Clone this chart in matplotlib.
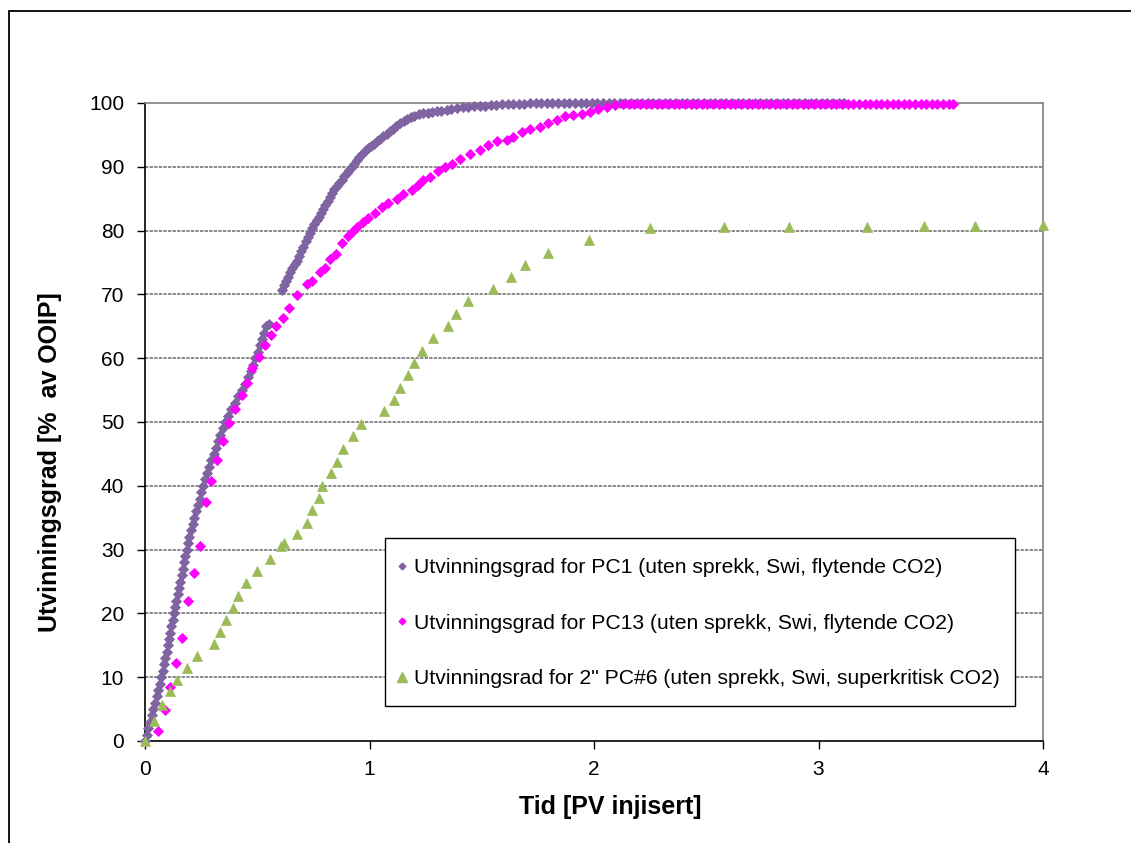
import matplotlib
matplotlib.use("Agg")
import matplotlib.pyplot as plt
from matplotlib.patches import Rectangle
from matplotlib.lines import Line2D

plt.rcParams['font.family'] = ['Liberation Sans', 'DejaVu Sans']

# PC1 (no fracture, Swi, liquid CO2)
pc1_x = [0, 0.008, 0.015, 0.022, 0.03, 0.037, 0.045, 0.052, 0.06, 0.066, 0.073, 0.079, 0.085, 0.09,
         0.096, 0.101, 0.107, 0.112, 0.118, 0.123, 0.128, 0.134, 0.14, 0.145, 0.151, 0.157, 0.163,
         0.168, 0.174, 0.18, 0.186, 0.192, 0.198, 0.205, 0.212, 0.22, 0.228, 0.235, 0.243, 0.251,
         0.26, 0.269, 0.278, 0.287, 0.296, 0.306, 0.316, 0.326, 0.336, 0.347, 0.358, 0.371, 0.385,
         0.4, 0.416, 0.43, 0.445, 0.458, 0.47, 0.481, 0.492, 0.502, 0.512, 0.522, 0.532, 0.541, 0.551,
         0.609, 0.618, 0.627, 0.636, 0.646, 0.656, 0.666, 0.676, 0.686, 0.696, 0.705, 0.715, 0.725,
         0.735, 0.745, 0.755, 0.765, 0.775, 0.785, 0.794, 0.804, 0.814, 0.824, 0.834, 0.844, 0.855,
         0.866, 0.877, 0.888, 0.898, 0.909, 0.92, 0.931, 0.943, 0.955, 0.967, 0.98, 0.993, 1.006,
         1.02, 1.034, 1.048, 1.062, 1.076, 1.09, 1.105, 1.12, 1.136, 1.152, 1.168, 1.184, 1.2, 1.22,
         1.24, 1.26, 1.28, 1.3, 1.32, 1.343, 1.365, 1.39, 1.415, 1.44, 1.465, 1.49, 1.515, 1.54,
         1.565, 1.59, 1.615, 1.64, 1.665, 1.69, 1.715, 1.74, 1.765, 1.79, 1.815, 1.84, 1.865, 1.89,
         1.915, 1.94, 1.965, 1.99, 2.015, 2.04, 2.065, 2.09, 2.115, 2.14, 2.165, 2.19, 2.215, 2.24,
         2.265, 2.29, 2.315, 2.34, 2.365, 2.39, 2.415, 2.44, 2.465, 2.49, 2.515, 2.54, 2.565, 2.59,
         2.615, 2.64, 2.665, 2.69, 2.715, 2.74, 2.765, 2.79, 2.815, 2.84, 2.865, 2.89, 2.915, 2.94,
         2.965, 2.99, 3.015, 3.04, 3.065, 3.09, 3.115]
pc1_y = [0, 1, 2, 3, 4, 5, 6, 7, 8, 9, 10, 11, 12, 13,
         14, 15, 16, 17, 18, 19, 20, 21, 22, 23, 24, 25, 26,
         27, 28, 29, 30, 31, 32, 33, 34, 35, 36, 37, 38, 39,
         40, 41, 42, 43, 44, 45, 46, 47, 48, 49, 50, 51, 52,
         53, 54, 55, 56, 57, 58, 59, 60, 61, 62, 63, 64, 65, 65.4,
         70.7, 71.4, 72.1, 72.8, 73.5, 74.1, 74.7, 75.3, 76.0, 76.8, 77.5, 78.3, 79.0,
         79.7, 80.4, 81.0, 81.6, 82.2, 82.8, 83.4, 84.0, 84.7, 85.3, 85.9, 86.5, 87.0,
         87.5, 88.0, 88.5, 89.0, 89.5, 90.0, 90.5, 91.0, 91.5, 92.0, 92.5, 93.0, 93.3,
         93.6, 94.0, 94.4, 94.8, 95.2, 95.6, 96.0, 96.4, 96.8, 97.2, 97.5, 97.8, 98.0, 98.2,
         98.4, 98.5, 98.6, 98.7, 98.8, 98.9, 99.0, 99.2, 99.3, 99.4, 99.5, 99.6, 99.6, 99.7,
         99.7, 99.8, 99.8, 99.9, 99.9, 99.9, 100, 100, 100, 100, 100, 100, 100, 100,
         100, 100, 100, 100, 100, 100, 100, 100, 100, 100, 100, 100, 100, 100,
         100, 100, 100, 100, 100, 100, 100, 100, 100, 100, 100, 100, 100, 100,
         100, 100, 100, 100, 100, 100, 100, 100, 100, 100, 100, 100, 100, 100,
         100, 100, 100, 100, 100, 100, 100]

# PC13 (no fracture, Swi, liquid CO2)
pc13_x = [0.06, 0.088, 0.113, 0.138, 0.163, 0.191, 0.218, 0.245, 0.271, 0.292, 0.32, 0.349, 0.373,
          0.402, 0.43, 0.453, 0.475, 0.508, 0.535, 0.561, 0.585, 0.613, 0.64, 0.677, 0.72, 0.742,
          0.779, 0.8, 0.824, 0.852, 0.878, 0.903, 0.925, 0.945, 0.972, 0.995, 1.024, 1.054, 1.084,
          1.121, 1.151, 1.188, 1.218, 1.24, 1.269, 1.306, 1.336, 1.366, 1.403, 1.448, 1.492, 1.529,
          1.566, 1.611, 1.641, 1.678, 1.715, 1.759, 1.796, 1.834, 1.871, 1.908, 1.945, 1.982, 2.019,
          2.056, 2.094, 2.131, 2.155, 2.18, 2.205, 2.23, 2.255, 2.28, 2.305, 2.33, 2.355, 2.38,
          2.405, 2.43, 2.455, 2.48, 2.505, 2.53, 2.555, 2.58, 2.605, 2.63, 2.655, 2.68, 2.705,
          2.73, 2.755, 2.78, 2.805, 2.83, 2.855, 2.88, 2.905, 2.93, 2.955, 2.98, 3.005, 3.03,
          3.055, 3.08, 3.105, 3.13, 3.155, 3.18, 3.205, 3.23, 3.255, 3.28, 3.305, 3.33, 3.355,
          3.38, 3.405, 3.43, 3.455, 3.48, 3.505, 3.53, 3.555, 3.58, 3.6]
pc13_y = [1.6, 4.8, 8.5, 12.3, 16.1, 21.9, 26.3, 30.6, 37.4, 40.7, 44.0, 47.0, 49.8,
          52.0, 54.2, 56.1, 58.4, 60.2, 62.0, 63.7, 65.1, 66.3, 67.9, 69.9, 71.6, 72.1,
          73.5, 74.1, 75.6, 76.4, 78.0, 79.1, 79.9, 80.6, 81.3, 81.9, 82.8, 83.7, 84.4,
          85.0, 85.8, 86.4, 87.1, 87.9, 88.4, 89.3, 89.9, 90.4, 91.2, 92.0, 92.7, 93.4,
          94.0, 94.2, 94.7, 95.5, 95.9, 96.3, 96.8, 97.3, 97.9, 98.1, 98.3, 98.6, 99.1,
          99.4, 99.7, 99.8, 99.8, 99.8, 99.8, 99.8, 99.8, 99.8, 99.8, 99.8, 99.8, 99.8,
          99.8, 99.8, 99.8, 99.8, 99.8, 99.8, 99.8, 99.8, 99.8, 99.8, 99.8, 99.8, 99.8,
          99.8, 99.8, 99.8, 99.8, 99.8, 99.8, 99.8, 99.8, 99.8, 99.8, 99.8, 99.8, 99.8,
          99.8, 99.8, 99.8, 99.8, 99.8, 99.8, 99.8, 99.8, 99.8, 99.8, 99.8, 99.8, 99.8,
          99.8, 99.8, 99.8, 99.8, 99.8, 99.8, 99.8, 99.8, 99.8, 99.8]

# 2" PC#6 (no fracture, Swi, supercritical CO2)
pc6_x = [0, 0.039, 0.076, 0.113, 0.143, 0.187, 0.232, 0.308, 0.333, 0.362, 0.391, 0.415, 0.452,
         0.497, 0.555, 0.607, 0.619, 0.679, 0.72, 0.746, 0.775, 0.79, 0.828, 0.857, 0.883, 0.928,
         0.962, 1.064, 1.107, 1.136, 1.173, 1.2, 1.235, 1.285, 1.348, 1.385, 1.437, 1.548, 1.63,
         1.693, 1.793, 1.976, 2.25, 2.579, 2.869, 3.218, 3.47, 3.697, 4.0]
pc6_y = [0, 3.2, 5.7, 7.8, 9.5, 11.5, 13.3, 15.2, 17.1, 19.0, 20.9, 22.8, 24.8,
         26.6, 28.5, 30.5, 31.0, 32.4, 34.2, 36.2, 38.1, 40.0, 42.0, 43.8, 45.8, 47.8,
         49.7, 51.7, 53.5, 55.4, 57.4, 59.3, 61.2, 63.2, 65.0, 67.0, 68.9, 70.8, 72.8,
         74.6, 76.5, 78.5, 80.4, 80.6, 80.6, 80.6, 80.7, 80.7, 80.8]

labels = [
    "Utvinningsgrad for PC1 (uten sprekk, Swi, flytende CO2)",
    "Utvinningsgrad for PC13 (uten sprekk, Swi, flytende CO2)",
    "Utvinningsrad for 2\" PC#6 (uten sprekk, Swi, superkritisk CO2)",
]
colors = ["#8064A2", "#FF00FF", "#9BBB59"]
x_ticks = [0, 1, 2, 3, 4]
y_ticks = [0, 10, 20, 30, 40, 50, 60, 70, 80, 90, 100]

W, H = 1131, 843
fig = plt.figure(figsize=(W / 100, H / 100), dpi=100)
fig.patch.set_facecolor("white")

left, right, top, bottom = 145, 1043, 103, 741
ax = fig.add_axes([left / W, 1 - bottom / H, (right - left) / W, (bottom - top) / H])

ax.plot(pc1_x, pc1_y, linestyle="none", marker="D", ms=4.9, mfc=colors[0], mec=colors[0],
        mew=0.6, zorder=3, clip_on=False)
ax.plot(pc13_x, pc13_y, linestyle="none", marker="D", ms=5.0, mfc=colors[1], mec=colors[1],
        mew=0.6, zorder=4, clip_on=False)
ax.plot(pc6_x, pc6_y, linestyle="none", marker="^", ms=7.8, mfc=colors[2], mec=colors[2],
        mew=0.5, zorder=5, clip_on=False)

ax.set_xlim(0, 4)
ax.set_ylim(0, 100)
ax.set_xticks(x_ticks)
ax.set_yticks(y_ticks)
ax.set_xticklabels([str(v) for v in x_ticks])
ax.set_yticklabels([str(v) for v in y_ticks])
ax.tick_params(axis="both", direction="out", length=6, width=1, color="black",
               labelsize=15, labelcolor="black")
ax.tick_params(axis="y", pad=9)
ax.tick_params(axis="x", pad=8)

for g in y_ticks[1:-1]:
    ax.axhline(g, color="#6a6a6a", lw=1.1, linestyle=(0, (2.2, 0.8)), zorder=1)

for s in ("left", "bottom"):
    ax.spines[s].set_color("black")
    ax.spines[s].set_linewidth(1.2)
for s in ("top", "right"):
    ax.spines[s].set_color("#808080")
    ax.spines[s].set_linewidth(1.2)

fig.text(610 / W, 1 - 807 / H, "Tid [PV injisert]", ha="center", va="center",
         fontsize=18, fontweight="bold")
fig.text(50 / W, 1 - 462 / H, "Utvinningsgrad [%  av OOIP]", ha="center", va="center",
         rotation=90, fontsize=18, fontweight="bold")

# legend box drawn as its own frame so its size can follow the entries' spacing
fig.patches.append(Rectangle((385 / W, 1 - 706 / H), (1015 - 385) / W, (706 - 538) / H,
                             transform=fig.transFigure, facecolor="white",
                             edgecolor="black", linewidth=1.0, zorder=8))

handles = [
    Line2D([], [], linestyle="none", marker="D", ms=3.4, mfc=colors[0], mec=colors[0]),
    Line2D([], [], linestyle="none", marker="D", ms=3.4, mfc=colors[1], mec=colors[1]),
    Line2D([], [], linestyle="none", marker="^", ms=6.5, mfc=colors[2], mec=colors[2]),
]
leg = fig.legend(handles, labels, loc="upper left",
                 bbox_to_anchor=(397.5 / W, 1 - 558 / H), bbox_transform=fig.transFigure,
                 borderaxespad=0, frameon=False, fontsize=15.2, handlelength=0.4,
                 handletextpad=0.4, labelspacing=1.74, borderpad=0)
leg.set_zorder(9)

fig.patches.append(Rectangle((9 / W, -0.1), 1.2, 1 - 11 / H + 0.1,
                             transform=fig.transFigure, fill=False,
                             edgecolor="black", linewidth=1.3))

fig.savefig("out.png", dpi=100, facecolor="white")
